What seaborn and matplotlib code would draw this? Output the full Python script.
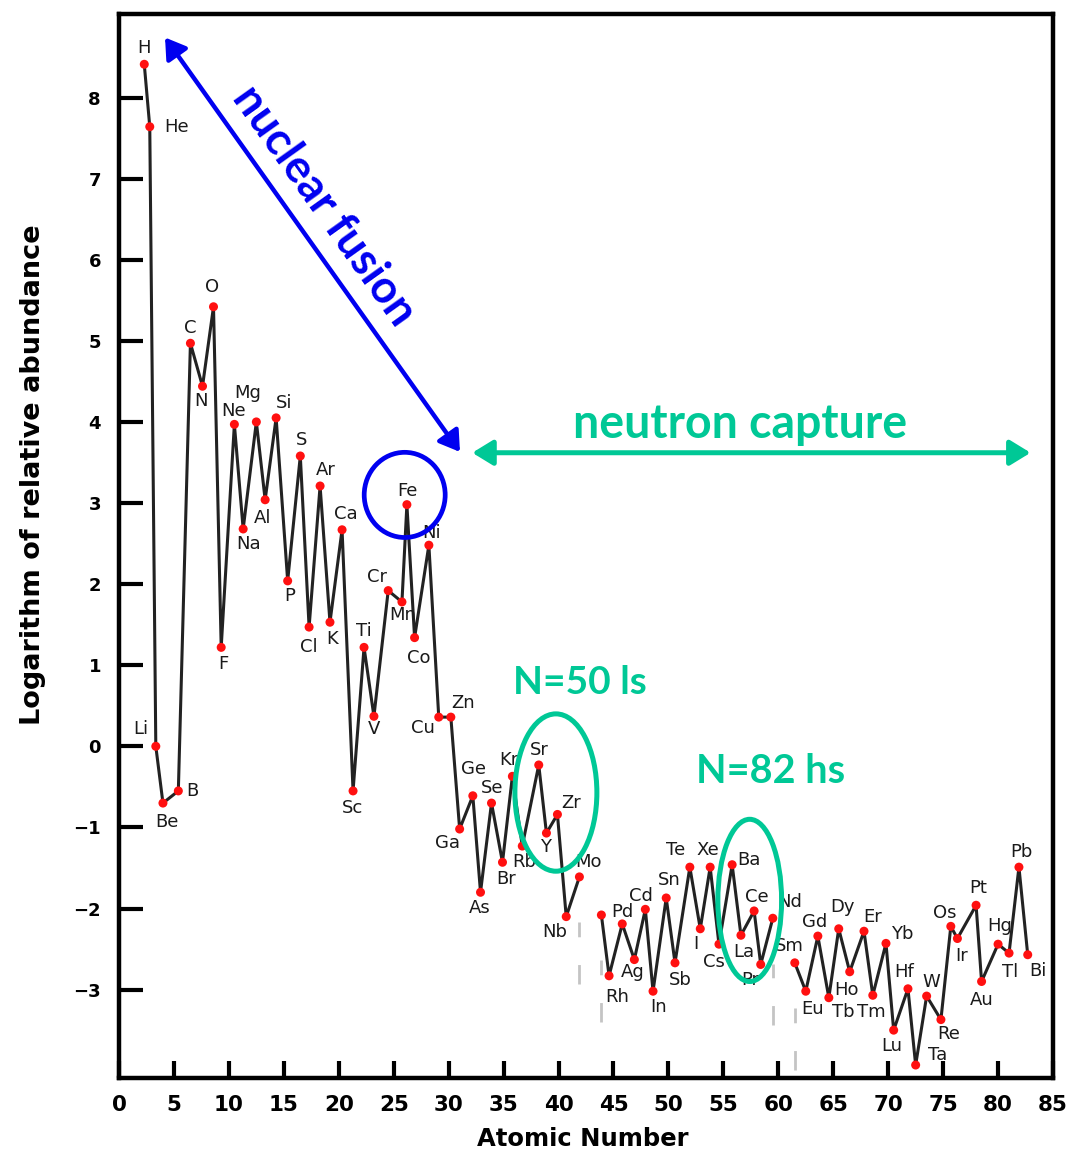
import numpy as np
import pandas as pd
import matplotlib
matplotlib.use("Agg")
import matplotlib.pyplot as plt
from matplotlib.patches import Ellipse, FancyArrowPatch
import seaborn as sns

# ---- data -----------------------------------------------------------------
symbols = ["H", "He", "Li", "Be", "B", "C", "N", "O", "F", "Ne",
           "Na", "Mg", "Al", "Si", "P", "S", "Cl", "Ar", "K", "Ca",
           "Sc", "Ti", "V", "Cr", "Mn", "Fe", "Co", "Ni", "Cu", "Zn",
           "Ga", "Ge", "As", "Se", "Br", "Kr", "Rb", "Sr", "Y", "Zr",
           "Nb", "Mo", "Ru", "Rh", "Pd", "Ag", "Cd", "In", "Sn", "Sb",
           "Te", "I", "Xe", "Cs", "Ba", "La", "Ce", "Pr", "Nd", "Sm",
           "Eu", "Gd", "Tb", "Dy", "Ho", "Er", "Tm", "Yb", "Lu", "Hf",
           "Ta", "W", "Re", "Os", "Ir", "Pt", "Au", "Hg", "Tl", "Pb", "Bi"]

atomic_numbers = list(range(1, 43)) + list(range(44, 61)) + list(range(62, 84))

# position of each element along the atomic-number axis
axis_position = [2.3, 2.8, 3.35, 4.0, 5.4, 6.5, 7.6, 8.6, 9.3, 10.5,
                 11.3, 12.5, 13.3, 14.3, 15.35, 16.5, 17.3, 18.3, 19.2, 20.3,
                 21.3, 22.3, 23.2, 24.5, 25.75, 26.2, 26.9, 28.2, 29.1, 30.2,
                 31.0, 32.2, 32.9, 33.9, 34.9, 35.8, 36.7, 38.2, 38.9, 39.9,
                 40.7, 41.9, 43.9, 44.6, 45.8, 46.9, 47.9, 48.6, 49.8, 50.6,
                 51.95, 52.9, 53.8, 54.6, 55.8, 56.6, 57.8, 58.4, 59.5, 61.5,
                 62.5, 63.6, 64.6, 65.5, 66.5, 67.8, 68.6, 69.8, 70.5, 71.8,
                 72.5, 73.5, 74.8, 75.7, 76.3, 78.0, 78.5, 80.0, 81.0, 81.9, 82.7]

log_abundance = [8.41, 7.64, 0.0, -0.70, -0.55, 4.97, 4.44, 5.42, 1.22, 3.97,
                 2.68, 4.00, 3.04, 4.05, 2.04, 3.58, 1.47, 3.21, 1.53, 2.67,
                 -0.55, 1.22, 0.37, 1.92, 1.78, 2.98, 1.34, 2.48, 0.36, 0.36,
                 -1.02, -0.61, -1.80, -0.70, -1.43, -0.37, -1.23, -0.23, -1.07, -0.84,
                 -2.10, -1.61, -2.08, -2.83, -2.19, -2.63, -2.01, -3.02, -1.87, -2.67,
                 -1.49, -2.25, -1.49, -2.44, -1.46, -2.33, -2.03, -2.69, -2.12, -2.67,
                 -3.02, -2.34, -3.10, -2.25, -2.78, -2.28, -3.07, -2.43, -3.50, -2.99,
                 -3.93, -3.08, -3.37, -2.22, -2.37, -1.96, -2.90, -2.44, -2.55, -1.49, -2.57]

x_ticks = list(range(0, 90, 5))
y_ticks = list(range(-3, 9))

# label placement around each point (pixels: right, down); None = unlabeled
label_offsets = {
    "H": (0, -16), "He": (27, 0), "Li": (-15, -17), "Be": (4, 19), "B": (14, 0),
    "C": (0, -15), "N": (-2, 15), "O": (-1, -20), "F": (2, 17), "Ne": (-1, -13),
    "Na": (5, 15), "Mg": (-9, -29), "Al": (-3, 18), "Si": (8, -15), "P": (2, 15),
    "S": (1, -16), "Cl": (0, 20), "Ar": (6, -16), "K": (2, 17), "Ca": (4, -16),
    "Sc": (-1, 17), "Ti": (0, -16), "V": (0, 13), "Cr": (-11, -14), "Mn": (1, 13),
    "Fe": (1, -14), "Co": (4, 20), "Ni": (3, -12), "Cu": (-16, 11), "Zn": (12, -14),
    "Ga": (-12, 14), "Ge": (1, -27), "As": (-1, 16), "Se": (1, -15), "Br": (4, 17),
    "Kr": (-4, -16), "Rb": (2, 16), "Sr": (1, -15), "Y": (-1, 14), "Zr": (14, -11),
    "Nb": (-11, 15), "Mo": (9, -15), "Ru": None, "Rh": (8, 21), "Pd": (0, -12),
    "Ag": (-2, 12), "Cd": (-4, -13), "In": (6, 16), "Sn": (3, -18), "Sb": (5, 17),
    "Te": (-14, -17), "I": (-4, 15), "Xe": (-2, -17), "Cs": (-5, 18), "Ba": (17, -5),
    "La": (3, 17), "Ce": (3, -14), "Pr": (-10, 16), "Nd": (17, -16), "Sm": (-5, -17),
    "Eu": (7, 18), "Gd": (-3, -14), "Tb": (14, 14), "Dy": (4, -22), "Ho": (-3, 18),
    "Er": (9, -14), "Tm": (-1, 17), "Yb": (16, -9), "Lu": (-2, 16), "Hf": (-4, -17),
    "Ta": (22, -10), "W": (5, -14), "Re": (8, 14), "Os": (-6, -13), "Ir": (4, 17),
    "Pt": (2, -17), "Au": (0, 19), "Hg": (2, -18), "Tl": (1, 19), "Pb": (3, -15),
    "Bi": (10, 16),
}

# ---- frame -----------------------------------------------------------------
df = pd.DataFrame({"symbol": symbols, "Z": atomic_numbers,
                   "x": axis_position, "y": log_abundance})
# elements missing from the table (Tc, Pm) break the trace into segments
df["segment"] = np.concatenate([[0], np.cumsum(np.diff(df["Z"]) > 1)])

sns.set_style("white")
plt.rcParams["font.family"] = ["DejaVu Sans"]

fig = plt.figure(figsize=(10.74, 11.54), dpi=100)
ax = fig.add_axes([119 / 1074, 1 - 1078 / 1154, (1053 - 119) / 1074, (1078 - 14) / 1154])

LINE = "#222222"
BLUE = "#0000f0"
GREEN = "#00c896"

sns.lineplot(data=df, x="x", y="y", units="segment", estimator=None, sort=False,
             color=LINE, linewidth=2.2, ax=ax, legend=False, zorder=2)
sns.scatterplot(data=df, x="x", y="y", color="#ff1010", s=42, edgecolor="none",
                ax=ax, legend=False, zorder=3)

# dashed markers beneath the ends of each break in the trace
breaks = np.where(np.diff(df["Z"]) > 1)[0]
for i in breaks:
    for j in (i, i + 1):
        ax.vlines(df["x"].iloc[j], df["y"].iloc[j] - 1.32, df["y"].iloc[j] - 0.56,
                  colors="#c4c4c4", linewidth=2.0, linestyles=(0, (7, 10)), zorder=1)

for sym, xv, yv in zip(df["symbol"], df["x"], df["y"]):
    off = label_offsets.get(sym)
    if off is None:
        continue
    ax.annotate(sym, (xv, yv), xytext=(off[0], -off[1]), textcoords="offset pixels",
                ha="center", va="center", fontsize=13, color="#1a1a1a", zorder=4)

# ---- axes styling ----------------------------------------------------------
ax.set_xlim(0, 85)
ax.set_ylim(-4.09, 9.03)
ax.set_xticks(x_ticks)
ax.set_yticks(y_ticks)
ax.set_yticklabels([str(v).replace("-", "\u2212") for v in y_ticks])
for s in ax.spines.values():
    s.set_linewidth(3.2)
    s.set_color("black")
ax.tick_params(axis="y", direction="in", length=17, width=3, pad=13,
               labelsize=13, left=True, colors="black")
ax.tick_params(axis="x", direction="in", length=12, width=3, pad=12,
               labelsize=15.5, bottom=True, colors="black")
for lab in ax.get_yticklabels() + ax.get_xticklabels():
    lab.set_fontweight("bold")
ax.set_xlabel("Atomic Number", fontsize=17.5, fontweight="bold", color="black")
ax.xaxis.set_label_coords(0.497, -0.046)
ax.set_ylabel("Logarithm of relative abundance", fontsize=19.5, fontweight="bold",
              color="black")
ax.yaxis.set_label_coords(-0.078, 0.567)
ax.grid(False)

# ---- annotations ----------------------------------------------------------
anno_font = ["Lato", "DejaVu Sans"]

fusion = FancyArrowPatch((4.19, 8.74), (31.03, 3.63),
                         arrowstyle="<|-|>,head_length=0.6,head_width=0.38",
                         mutation_scale=20, color=BLUE, linewidth=3.2,
                         shrinkA=0, shrinkB=0, zorder=5)
ax.add_patch(fusion)
ax.text(18.6, 6.66, "nuclear fusion", rotation=-54.5, rotation_mode="anchor",
        ha="center", va="center", fontsize=32.5, fontweight="bold",
        color=BLUE, family=anno_font, zorder=5)

capture = FancyArrowPatch((32.15, 3.62), (82.96, 3.62),
                          arrowstyle="<|-|>,head_length=0.62,head_width=0.38",
                          mutation_scale=20, color=GREEN, linewidth=3.6,
                          shrinkA=0, shrinkB=0, zorder=5)
ax.add_patch(capture)
ax.text(56.5, 3.97, "neutron capture", ha="center", va="center", fontsize=33.5,
        fontweight="bold", color=GREEN, family=anno_font, zorder=5)

ax.add_patch(Ellipse((26.0, 3.10), 7.37, 1.05, fill=False, edgecolor=BLUE,
                     linewidth=3.4, zorder=5))
ax.add_patch(Ellipse((39.76, -0.57), 7.46, 1.94, fill=False, edgecolor=GREEN,
                     linewidth=3.6, zorder=5))
ax.add_patch(Ellipse((57.4, -1.90), 5.8, 2.0, fill=False, edgecolor=GREEN,
                     linewidth=3.6, zorder=5))

ax.text(41.95, 0.79, "N=50 ls", ha="center", va="center", fontsize=28,
        fontweight="bold", color=GREEN, family=anno_font, zorder=5)
ax.text(59.33, -0.31, "N=82 hs", ha="center", va="center", fontsize=28.5,
        fontweight="bold", color=GREEN, family=anno_font, zorder=5)

fig.savefig("out.png", dpi=100)
